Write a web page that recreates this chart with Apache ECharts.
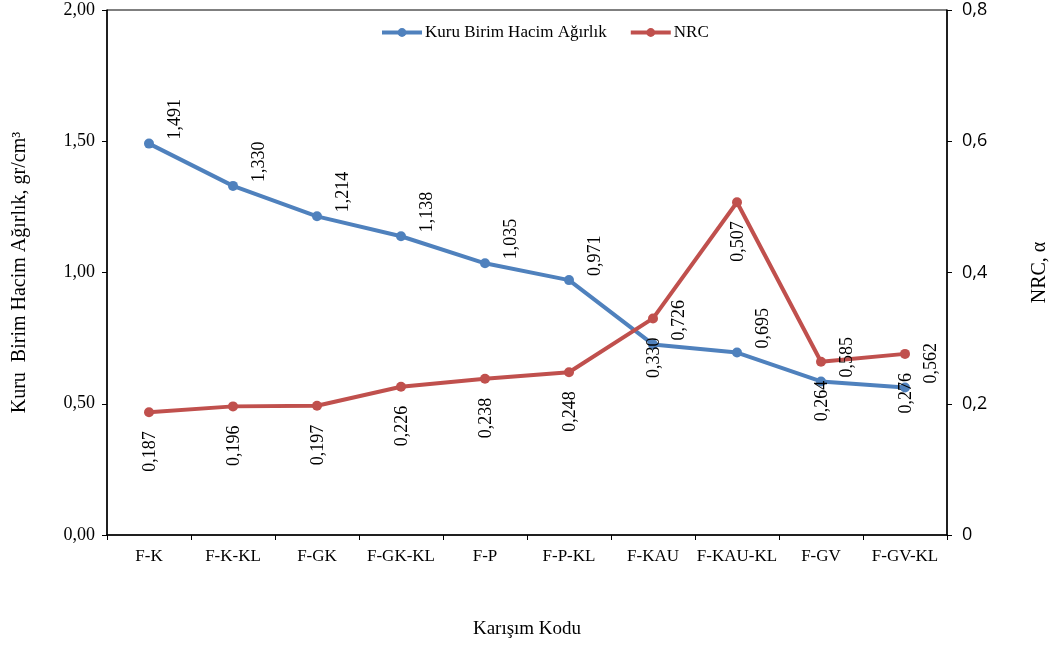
<!DOCTYPE html>
<html><head><meta charset="utf-8">
<script src="https://cdn.jsdelivr.net/npm/echarts@6/dist/echarts.min.js"></script>
<style>html,body{margin:0;padding:0;background:#fff}#c{width:1054px;height:646px}</style>
</head><body><div id="c"></div>
<script>
const categories = ['F-K','F-K-KL','F-GK','F-GK-KL','F-P','F-P-KL','F-KAU','F-KAU-KL','F-GV','F-GV-KL'];
const density = [1.491,1.330,1.214,1.138,1.035,0.971,0.726,0.695,0.585,0.562];
const nrc = [0.187,0.196,0.197,0.226,0.238,0.248,0.330,0.507,0.264,0.276];
const leftTicks = ['0,00','0,50','1,00','1,50','2,00'];
const rightTicks = ['0','0,2','0,4','0,6','0,8'];

const serif = '"Liberation Serif", "DejaVu Serif", serif';
const fmt3 = p => p.value.toFixed(3).replace('.', ',');
const chart = echarts.init(document.getElementById('c'));
chart.setOption({
  animation: false,
  backgroundColor: '#fff',
  grid: { left: 107, right: 107, top: 10, bottom: 111, show: true, borderColor: '#000', borderWidth: 1,
    outerBoundsMode: 'none', containLabel: false },
  legend: {
    top: 19, left: 375, itemWidth: 40, itemHeight: 11, itemGap: 22,
    lineStyle: { width: 4 },
    textStyle: { fontFamily: serif, fontSize: 17, color: '#000', padding: [0, 0, 0, -2] },
    data: ['Kuru Birim Hacim Ağırlık', 'NRC']
  },
  xAxis: {
    type: 'category', data: categories, boundaryGap: true,
    axisLine: { lineStyle: { color: '#000', width: 1.5 } },
    axisTick: { show: true, length: 5, interval: 0, lineStyle: { color: '#000' } },
    axisLabel: { interval: 0, fontFamily: serif, fontSize: 17, color: '#000', margin: 13 },
    name: 'Karışım Kodu', nameLocation: 'middle', nameGap: 85,
    nameTextStyle: { fontFamily: serif, fontSize: 19, color: '#000' }
  },
  yAxis: [{
    type: 'value', min: 0, max: 2, interval: 0.5, position: 'left',
    splitLine: { show: false },
    axisLine: { show: true, lineStyle: { color: '#000', width: 1.5 } },
    axisTick: { show: true, length: 5, lineStyle: { color: '#000' } },
    axisLabel: { fontFamily: serif, fontSize: 18, color: '#000', margin: 12,
      formatter: v => leftTicks[Math.round(v / 0.5)] },
    name: 'Kuru  Birim Hacim Ağırlık, gr/cm³', nameLocation: 'middle', nameGap: 77, nameRotate: 90,
    nameTextStyle: { fontFamily: serif, fontSize: 20, color: '#000' }
  }, {
    type: 'value', min: 0, max: 0.8, interval: 0.2, position: 'right',
    splitLine: { show: false },
    axisLine: { show: true, lineStyle: { color: '#000', width: 1.5 } },
    axisTick: { show: true, length: 5, lineStyle: { color: '#000' } },
    axisLabel: { fontFamily: '"Open Sans", "Liberation Sans", sans-serif', fontSize: 18, color: '#000', margin: 15,
      formatter: v => rightTicks[Math.round(v / 0.2)] },
    name: 'NRC, α', nameLocation: 'middle', nameGap: 83, nameRotate: 90,
    nameTextStyle: { fontFamily: serif, fontSize: 20, color: '#000' }
  }],
  series: [{
    name: 'Kuru Birim Hacim Ağırlık', type: 'line', yAxisIndex: 0, data: density,
    color: '#4F81BD', symbol: 'circle', symbolSize: 10,
    lineStyle: { width: 4, color: '#4F81BD' }, itemStyle: { color: '#4F81BD' },
    label: { show: true, formatter: fmt3, rotate: 90, position: [31, 1], align: 'left', verticalAlign: 'middle',
      fontFamily: serif, fontSize: 18, color: '#000' }
  }, {
    name: 'NRC', type: 'line', yAxisIndex: 1, data: nrc,
    color: '#C0504D', symbol: 'circle', symbolSize: 10,
    lineStyle: { width: 4, color: '#C0504D' }, itemStyle: { color: '#C0504D' },
    label: { show: true, formatter: fmt3, rotate: 90, position: [6, 24], align: 'right', verticalAlign: 'middle',
      fontFamily: serif, fontSize: 18, color: '#000' }
  }]
});
</script></body></html>
